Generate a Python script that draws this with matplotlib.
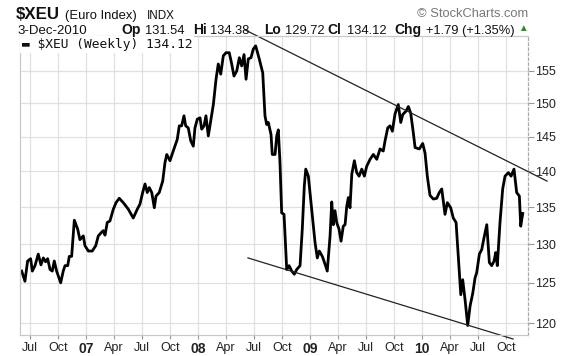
import numpy as np
import matplotlib
matplotlib.use("Agg")
import matplotlib.pyplot as plt
from matplotlib.ticker import FixedLocator, NullLocator

plt.rcParams['font.family'] = ['Liberation Sans', 'DejaVu Sans']

# weekly close of $XEU (x in decimal years)
t_year = [
    2006.426, 2006.455, 2006.479, 2006.506, 2006.521, 2006.545, 2006.574, 2006.598, 2006.619, 2006.640,
    2006.658, 2006.679, 2006.699, 2006.717, 2006.738, 2006.774, 2006.797, 2006.813, 2006.837, 2006.851,
    2006.872, 2006.896, 2006.926, 2006.946, 2006.976, 2006.991, 2007.021, 2007.056, 2007.087, 2007.110,
    2007.134, 2007.154, 2007.170, 2007.190, 2007.214, 2007.244, 2007.268, 2007.297, 2007.333, 2007.378,
    2007.422, 2007.458, 2007.482, 2007.506, 2007.527, 2007.547, 2007.565, 2007.587, 2007.610, 2007.625,
    2007.654, 2007.685, 2007.705, 2007.721, 2007.750, 2007.779, 2007.815, 2007.833, 2007.854, 2007.875,
    2007.890, 2007.913, 2007.935, 2007.958, 2007.973, 2007.994, 2008.018, 2008.033, 2008.054, 2008.071,
    2008.092, 2008.113, 2008.137, 2008.161, 2008.181, 2008.203, 2008.226, 2008.250, 2008.279, 2008.301,
    2008.321, 2008.346, 2008.369, 2008.390, 2008.411, 2008.429, 2008.449, 2008.473, 2008.494, 2008.515,
    2008.547, 2008.578, 2008.598, 2008.613, 2008.628, 2008.652, 2008.663, 2008.688, 2008.703, 2008.717,
    2008.732, 2008.747, 2008.768, 2008.792, 2008.813, 2008.837, 2008.860, 2008.881, 2008.911, 2008.931,
    2008.949, 2008.962, 2008.985, 2009.015, 2009.045, 2009.065, 2009.083, 2009.110, 2009.134, 2009.154,
    2009.179, 2009.194, 2009.208, 2009.223, 2009.238, 2009.259, 2009.277, 2009.297, 2009.313, 2009.328,
    2009.342, 2009.357, 2009.373, 2009.396, 2009.417, 2009.438, 2009.462, 2009.485, 2009.506, 2009.536,
    2009.565, 2009.596, 2009.625, 2009.654, 2009.670, 2009.694, 2009.714, 2009.735, 2009.759, 2009.788,
    2009.810, 2009.828, 2009.857, 2009.878, 2009.899, 2009.922, 2009.938, 2009.976, 2010.006, 2010.027,
    2010.047, 2010.071, 2010.101, 2010.131, 2010.154, 2010.176, 2010.190, 2010.205, 2010.226, 2010.256,
    2010.279, 2010.304, 2010.324, 2010.346, 2010.363, 2010.384, 2010.408, 2010.429, 2010.453, 2010.473,
    2010.488, 2010.512, 2010.533, 2010.554, 2010.578, 2010.601, 2010.622, 2010.643, 2010.658, 2010.672,
    2010.696, 2010.720, 2010.741, 2010.771, 2010.795, 2010.821, 2010.845, 2010.869, 2010.881, 2010.899,
]
close = [
    126.5, 125.2, 127.8, 128.1, 126.5, 127.2, 128.7, 127.3, 128.2, 127.7,
    128.1, 126.7, 126.5, 127.8, 126.5, 125.0, 126.5, 127.2, 127.2, 128.4,
    128.4, 133.2, 132.0, 130.6, 131.1, 129.8, 129.1, 129.1, 129.8, 131.1,
    131.5, 131.8, 131.2, 132.9, 133.1, 134.7, 135.6, 136.2, 135.6, 134.7,
    133.5, 134.7, 135.4, 137.0, 138.2, 137.0, 137.7, 137.0, 134.9, 136.5,
    137.0, 138.6, 141.2, 142.4, 141.5, 142.9, 144.6, 146.6, 146.6, 148.1,
    146.6, 146.3, 144.4, 143.6, 146.3, 147.6, 147.8, 146.1, 146.6, 148.1,
    145.1, 147.3, 149.8, 153.7, 156.1, 154.5, 157.4, 157.9, 157.9, 156.1,
    154.2, 155.0, 157.1, 155.8, 157.6, 153.7, 156.9, 157.1, 158.5, 159.0,
    156.9, 154.7, 148.1, 146.8, 147.1, 145.3, 142.4, 142.4, 145.1, 146.0,
    141.2, 134.2, 134.0, 126.7, 127.2, 126.5, 126.1, 126.7, 127.2, 132.0,
    137.9, 140.3, 139.3, 134.7, 130.2, 128.2, 129.1, 128.4, 127.4, 126.5,
    131.1, 135.7, 132.6, 134.5, 132.9, 132.0, 130.4, 132.4, 132.6, 135.1,
    136.3, 134.9, 139.6, 141.5, 139.8, 139.3, 140.3, 139.3, 140.7, 141.7,
    142.4, 141.7, 143.2, 142.9, 144.4, 146.3, 146.6, 145.8, 148.4, 149.8,
    147.1, 148.3, 148.8, 149.5, 148.5, 145.6, 143.4, 143.2, 144.0, 142.6,
    139.3, 136.6, 136.1, 136.2, 137.0, 137.5, 135.8, 134.0, 135.6, 134.9,
    133.5, 132.9, 128.4, 123.5, 125.4, 122.9, 119.7, 122.1, 123.7, 125.6,
    126.3, 128.7, 129.3, 130.9, 132.6, 127.6, 127.2, 127.8, 128.9, 127.2,
    132.9, 137.5, 139.3, 139.8, 139.3, 140.3, 137.0, 136.5, 132.4, 134.12,
]

# hand-drawn trend lines (start, end)
upper_t = [2008.42, 2011.116]
upper_v = [161.6, 138.6]
lower_t = [2008.446, 2010.8125]
lower_v = [128.2, 118.07]

y_ticks = [120, 125, 130, 135, 140, 145, 150, 155]
quarter_labels = ['Jul', 'Oct', '07', 'Apr', 'Jul', 'Oct', '08', 'Apr', 'Jul', 'Oct',
                  '09', 'Apr', 'Jul', 'Oct', '10', 'Apr', 'Jul', 'Oct']
quarter_pos = [2006.5 + 0.25 * i for i in range(len(quarter_labels))]

W, H = 576, 356
fig = plt.figure(figsize=(W / 100, H / 100), dpi=100)
ax = fig.add_axes([20 / W, 1 - 335 / H, (528 - 20) / W, (335 - 36) / H])

ax.plot(t_year, close, color='black', lw=2.0, solid_joinstyle='round')
ax.plot(upper_t, upper_v, color='#222222', lw=0.9, clip_on=False)
ax.plot(lower_t, lower_v, color='#222222', lw=0.9, clip_on=False)

ax.set_yscale('log')
ax.set_ylim(118.55, 160.6)
ax.set_xlim(2006.411, 2010.946)

ax.yaxis.set_major_locator(FixedLocator(y_ticks))
ax.yaxis.set_minor_locator(NullLocator())
ax.set_yticks(y_ticks)
ax.set_yticklabels([str(v) for v in y_ticks])
ax.yaxis.tick_right()
ax.tick_params(axis='y', which='both', length=4, width=0.8, color='#999999',
               labelsize=9, labelcolor='#222222', pad=1)

ax.set_xticks(quarter_pos)
ax.set_xticklabels(quarter_labels)
ax.tick_params(axis='x', length=3, width=0.8, color='#999999', labelsize=9,
               labelcolor='#222222', pad=2)
for lab in ax.get_xticklabels():
    if lab.get_text().isdigit():
        lab.set_fontweight('bold')
        lab.set_fontsize(10)

ax.grid(True, color='#e0e0e0', lw=0.9)
ax.set_axisbelow(True)
for side in ['left', 'top', 'bottom']:
    ax.spines[side].set_color('#c8c8c8')
    ax.spines[side].set_linewidth(0.9)
ax.spines['right'].set_color('#aaaaaa')
ax.spines['right'].set_linestyle((0, (2, 2)))
ax.spines['right'].set_linewidth(0.9)

# legend box
ax.text(0.004, 0.993, '\u25ac $XEU (Weekly) 134.12', transform=ax.transAxes,
        ha='left', va='top', fontsize=9.3, family='DejaVu Sans Mono', color='#111111',
        bbox=dict(boxstyle='square,pad=0.15', fc='white', ec='none'))

# header
def ftxt(x, y, s, **kw):
    fig.text(x / W, 1 - y / H, s, va='baseline', color='#111111', **kw)

ftxt(16, 19, '$XEU', fontsize=12.2, fontweight='bold')
ftxt(65, 19, '(Euro Index)', fontsize=9.4)
ftxt(147, 19, 'INDX', fontsize=8.4)
ftxt(17, 34, '3-Dec-2010', fontsize=9.5)
parts = [(121, 'Op', True), (145, '131.54', False), (193, 'Hi', True), (210, '134.38', False),
         (264, 'Lo', True), (285, '129.72', False), (327, 'Cl', True), (347, '134.12', False),
         (394, 'Chg', True), (426, '+1.79 (+1.35%)', False)]
for x, s, b in parts:
    ftxt(x, 34, s, fontsize=10 if b else 9.3, fontweight='bold' if b else 'normal')
fig.text(518 / W, 1 - 31 / H, '\u25b2', fontsize=7, color='#2e8b2e', va='baseline')
fig.text(417 / W, 1 - 17 / H, '\u00a9 StockCharts.com', fontsize=9.3, color='#777777', va='baseline')

fig.savefig('out.png', dpi=100, facecolor='white')
